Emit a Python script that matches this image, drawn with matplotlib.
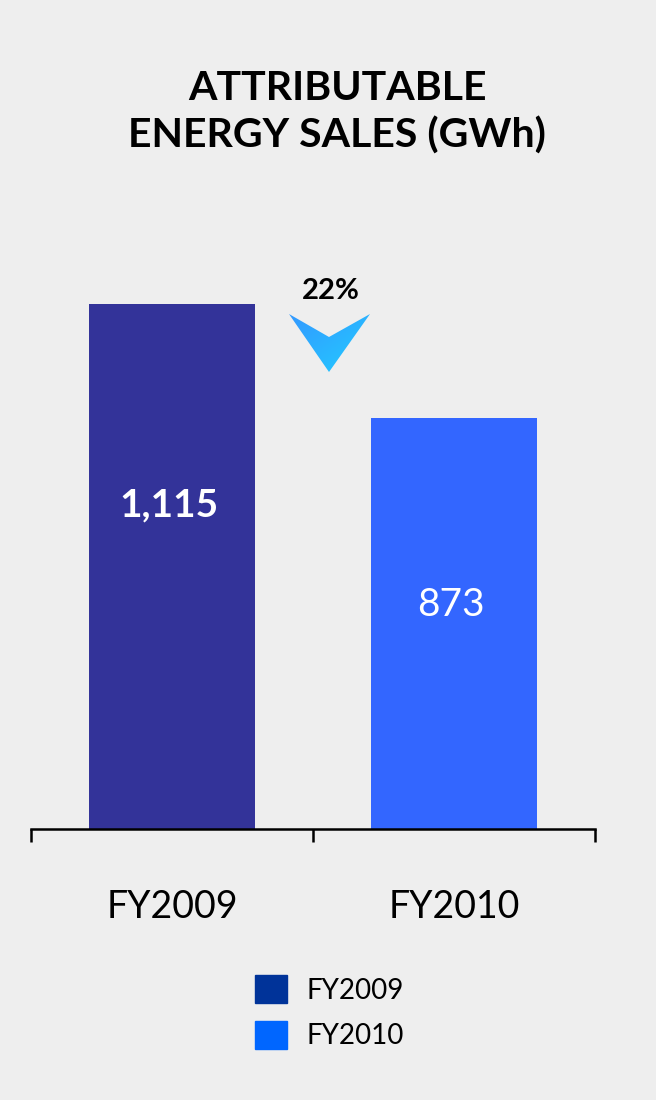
import numpy as np
import matplotlib.pyplot as plt
from matplotlib.patches import Patch, Polygon
from matplotlib.colors import LinearSegmentedColormap

plt.rcParams['font.family'] = ['Lato', 'DejaVu Sans']

# attributable energy sales, GWh
years = ['FY2009', 'FY2010']
sales = [1115, 873]
value_labels = ['1,115', '873']
label_y = [688, 476]          # where the value text sits inside each bar
label_weight = ['bold', 'normal']
change_label = '22%'

bar_colors = ['#333399', '#3366ff']
legend_colors = ['#003399', '#0066ff']
bg = '#eeeeee'

W, H = 656, 1100
fig = plt.figure(figsize=(W / 100, H / 100), dpi=100, facecolor=bg)

ax = fig.add_axes([31 / W, (H - 829) / H, 564 / W, 629 / H])
ax.set_facecolor(bg)
x = np.arange(len(years))
bars = ax.bar(x, sales, width=0.59, color=bar_colors, zorder=1)

ax.set_xlim(-0.5, 1.5)
ax.set_ylim(0, 629 / (525 / 1115))

for s in ['top', 'left', 'right']:
    ax.spines[s].set_visible(False)
ax.spines['bottom'].set_linewidth(1.8)
ax.spines['bottom'].set_zorder(3)
ax.set_yticks([])

# bracket ticks between categories, labels on minor ticks
ax.set_xticks([-0.5, 0.5, 1.5])
ax.set_xticklabels([])
ax.tick_params(axis='x', which='major', direction='out', length=9.5, width=1.8)
ax.set_xticks(x, minor=True)
ax.set_xticklabels(years, minor=True, fontsize=27)
ax.tick_params(axis='x', which='minor', length=0, pad=43)

for rect, txt, yy, wt in zip(bars, value_labels, label_y, label_weight):
    ax.annotate(txt, (rect.get_x() + rect.get_width() / 2, yy), xytext=(-2, 0),
                textcoords='offset points', ha='center', va='center',
                color='white', fontsize=28, fontweight=wt, zorder=4)

fig.text(337 / W, 1 - 112 / H, 'ATTRIBUTABLE\nENERGY SALES (GWh)', ha='center', va='center',
         fontsize=29.5, fontweight='bold', linespacing=1.3)

# down chevron with gradient fill
ov = fig.add_axes([0, 0, 1, 1], facecolor='none')
ov.axis('off')
chev = Polygon([(289, 314), (329, 337), (370, 314), (329, 372)], closed=True,
               facecolor='none', edgecolor='none')
ov.add_patch(chev)
gx, gy = np.meshgrid(np.linspace(0, 1, 64), np.linspace(0, 1, 64))
grad = (gx + gy) / 2
cmap = LinearSegmentedColormap.from_list('chev', ['#3399ff', '#22ccff'])
im = ov.imshow(grad, cmap=cmap, extent=(289, 370, 372, 314), aspect='auto', zorder=2)
im.set_clip_path(chev)
ov.set_xlim(0, W)
ov.set_ylim(H, 0)
ov.text(331, 291, change_label, ha='center', va='center', fontsize=21, fontweight='bold')

handles = [Patch(color=c) for c in legend_colors]
fig.legend(handles, years, loc='upper left', bbox_to_anchor=(230 / W, 1 - 950 / H),
           frameon=False, fontsize=20, handlelength=1.15, handleheight=1.2,
           handletextpad=0.7, labelspacing=0.62)

fig.savefig('out.png', dpi=100, facecolor=bg)
